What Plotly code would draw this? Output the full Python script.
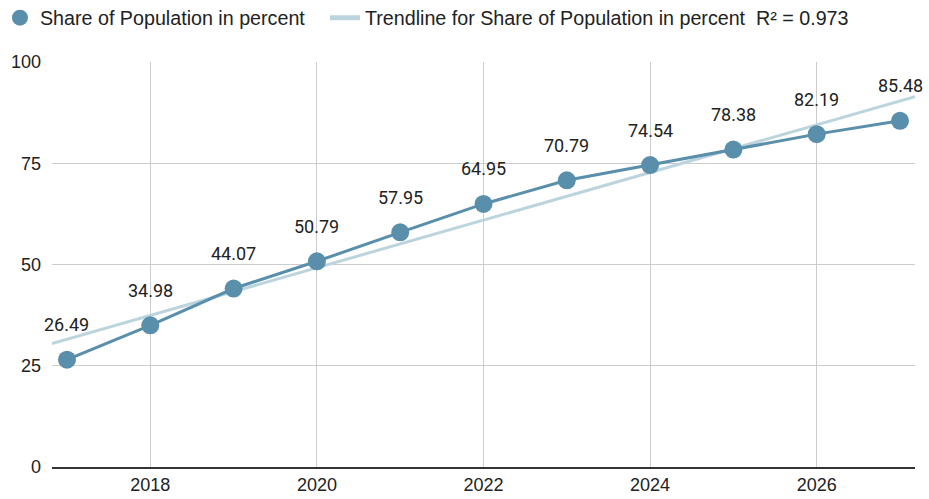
import numpy as np
import plotly.graph_objects as go

years = [2017, 2018, 2019, 2020, 2021, 2022, 2023, 2024, 2025, 2026, 2027]
share = [26.49, 34.98, 44.07, 50.79, 57.95, 64.95, 70.79, 74.54, 78.38, 82.19, 85.48]
series_name = "Share of Population in percent"
trend_name = "Trendline for Share of Population in percent  R² = 0.973"
x_range = [2016.82, 2027.18]
y_ticks = [0, 25, 50, 75, 100]
x_ticks = [2018, 2020, 2022, 2024, 2026]

slope, intercept = np.polyfit(years, share, 1)
trend_x = x_range
trend_y = [slope * x + intercept for x in trend_x]

line_color = "#5a8fab"
trend_color = "#bcd4dd"

fig = go.Figure()
fig.add_trace(go.Scatter(x=trend_x, y=trend_y, mode="lines", name=trend_name,
                         line=dict(color=trend_color, width=3), showlegend=False,
                         hoverinfo="skip", cliponaxis=False))
fig.add_trace(go.Scatter(x=years, y=share, mode="lines+markers", name=series_name,
                         line=dict(color=line_color, width=3),
                         marker=dict(color=line_color, size=18), showlegend=False,
                         cliponaxis=False))
# legend entries
fig.add_trace(go.Scatter(x=[None], y=[None], mode="markers", name=series_name,
                         marker=dict(color=line_color, size=18), legend="legend"))
fig.add_trace(go.Scatter(x=[None], y=[None], mode="lines", name=trend_name,
                         line=dict(color=trend_color, width=5), legend="legend2"))

for x, y in zip(years, share):
    fig.add_annotation(x=x, y=y, text=f"{y:.2f}", showarrow=False, yshift=35,
                       font=dict(family="Roboto", size=18, color="#222222"))

legend_font = dict(size=19.7, color="#222222")
fig.update_layout(
    width=929, height=499,
    margin=dict(l=52, r=14, t=62, b=32, autoexpand=False),
    plot_bgcolor="white", paper_bgcolor="white",
    font=dict(family="Liberation Sans, Arial", size=18, color="#222222"),
    legend=dict(orientation="h", x=-0.0603, xanchor="left", y=1.109, yanchor="middle",
                font=legend_font, itemsizing="trace"),
    legend2=dict(orientation="h", x=0.3163, xanchor="left", y=1.109, yanchor="middle",
                 font=legend_font, itemsizing="trace"),
    xaxis=dict(range=x_range, tickvals=x_ticks, showgrid=True, gridcolor="#cccccc",
               gridwidth=1, showline=True, linecolor="#333333", linewidth=2,
               zeroline=False, ticks="", automargin=False),
    yaxis=dict(range=[0, 100], tickvals=y_ticks, showgrid=True, gridcolor="#cccccc",
               gridwidth=1, zeroline=False, ticks="", ticklabelstandoff=10,
               automargin=False),
)

fig.write_html("out.html", post_script="document.body.style.margin='0';",
               config={"displayModeBar": False})
